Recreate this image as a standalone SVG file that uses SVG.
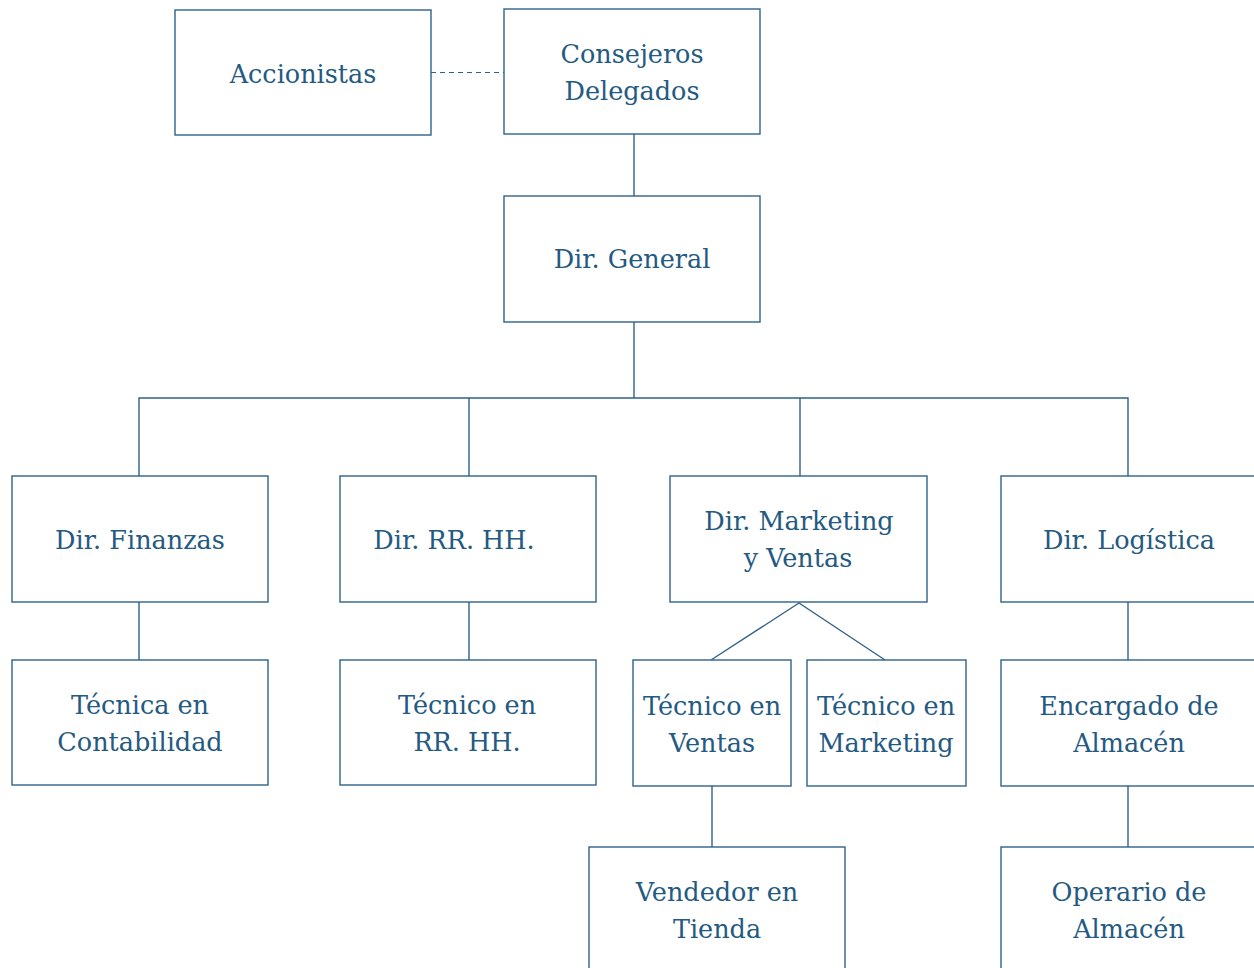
<svg xmlns="http://www.w3.org/2000/svg" width="1254" height="968" viewBox="0 0 1254 968">
<style>
.box{fill:#ffffff;stroke:#2f6189;stroke-width:1.4}
.t{font-family:"DejaVu Serif","Liberation Serif",serif;font-size:25.5px;fill:#245a82;text-anchor:middle}
.c{fill:none;stroke:#2f6189;stroke-width:1.4}
.d{fill:none;stroke:#2f6189;stroke-width:1.2;stroke-dasharray:5 4}
</style>
<rect width="1254" height="968" fill="#ffffff"/>
<g id="connectors">
<line class="d" x1="431" y1="72.5" x2="504" y2="72.5"/>
<line class="c" x1="634" y1="134" x2="634" y2="196"/>
<line class="c" x1="634" y1="322" x2="634" y2="398"/>
<polyline class="c" points="139,476 139,398 1128,398 1128,476"/>
<line class="c" x1="469" y1="398" x2="469" y2="476"/>
<line class="c" x1="800" y1="398" x2="800" y2="476"/>
<line class="c" x1="139" y1="602" x2="139" y2="660"/>
<line class="c" x1="469" y1="602" x2="469" y2="660"/>
<polyline class="c" points="711,660 799,603 885,660"/>
<line class="c" x1="1128" y1="602" x2="1128" y2="660"/>
<line class="c" x1="712" y1="786" x2="712" y2="847"/>
<line class="c" x1="1128" y1="786" x2="1128" y2="847"/>
</g>
<g id="accionistas"><rect class="box" x="175" y="10" width="256" height="125"/><text class="t" x="303" y="83">Accionistas</text></g>
<g id="consejeros"><rect class="box" x="504" y="9" width="256" height="125"/><text class="t" x="632" y="63">Consejeros</text><text class="t" x="632" y="100">Delegados</text></g>
<g id="dir-general"><rect class="box" x="504" y="196" width="256" height="126"/><text class="t" x="632" y="268">Dir. General</text></g>
<g id="dir-finanzas"><rect class="box" x="12" y="476" width="256" height="126"/><text class="t" x="140" y="549">Dir. Finanzas</text></g>
<g id="dir-rrhh"><rect class="box" x="340" y="476" width="256" height="126"/><text class="t" x="454" y="549">Dir. RR. HH.</text></g>
<g id="dir-marketing"><rect class="box" x="670" y="476" width="257" height="126"/><text class="t" x="799" y="530">Dir. Marketing</text><text class="t" x="798" y="567">y Ventas</text></g>
<g id="dir-logistica"><rect class="box" x="1001" y="476" width="270" height="126"/><text class="t" x="1129" y="549">Dir. Logística</text></g>
<g id="tecnica-contabilidad"><rect class="box" x="12" y="660" width="256" height="125"/><text class="t" x="140" y="714">Técnica en</text><text class="t" x="140" y="751">Contabilidad</text></g>
<g id="tecnico-rrhh"><rect class="box" x="340" y="660" width="256" height="125"/><text class="t" x="467" y="714">Técnico en</text><text class="t" x="467" y="751">RR. HH.</text></g>
<g id="tecnico-ventas"><rect class="box" x="633" y="660" width="158" height="126"/><text class="t" x="712" y="715">Técnico en</text><text class="t" x="712" y="752">Ventas</text></g>
<g id="tecnico-marketing"><rect class="box" x="807" y="660" width="159" height="126"/><text class="t" x="886" y="715">Técnico en</text><text class="t" x="886" y="752">Marketing</text></g>
<g id="encargado-almacen"><rect class="box" x="1001" y="660" width="270" height="126"/><text class="t" x="1129" y="715">Encargado de</text><text class="t" x="1129" y="752">Almacén</text></g>
<g id="vendedor-tienda"><rect class="box" x="589" y="847" width="256" height="140"/><text class="t" x="717" y="901">Vendedor en</text><text class="t" x="717" y="938">Tienda</text></g>
<g id="operario-almacen"><rect class="box" x="1001" y="847" width="270" height="140"/><text class="t" x="1129" y="901">Operario de</text><text class="t" x="1129" y="938">Almacén</text></g>
</svg>
